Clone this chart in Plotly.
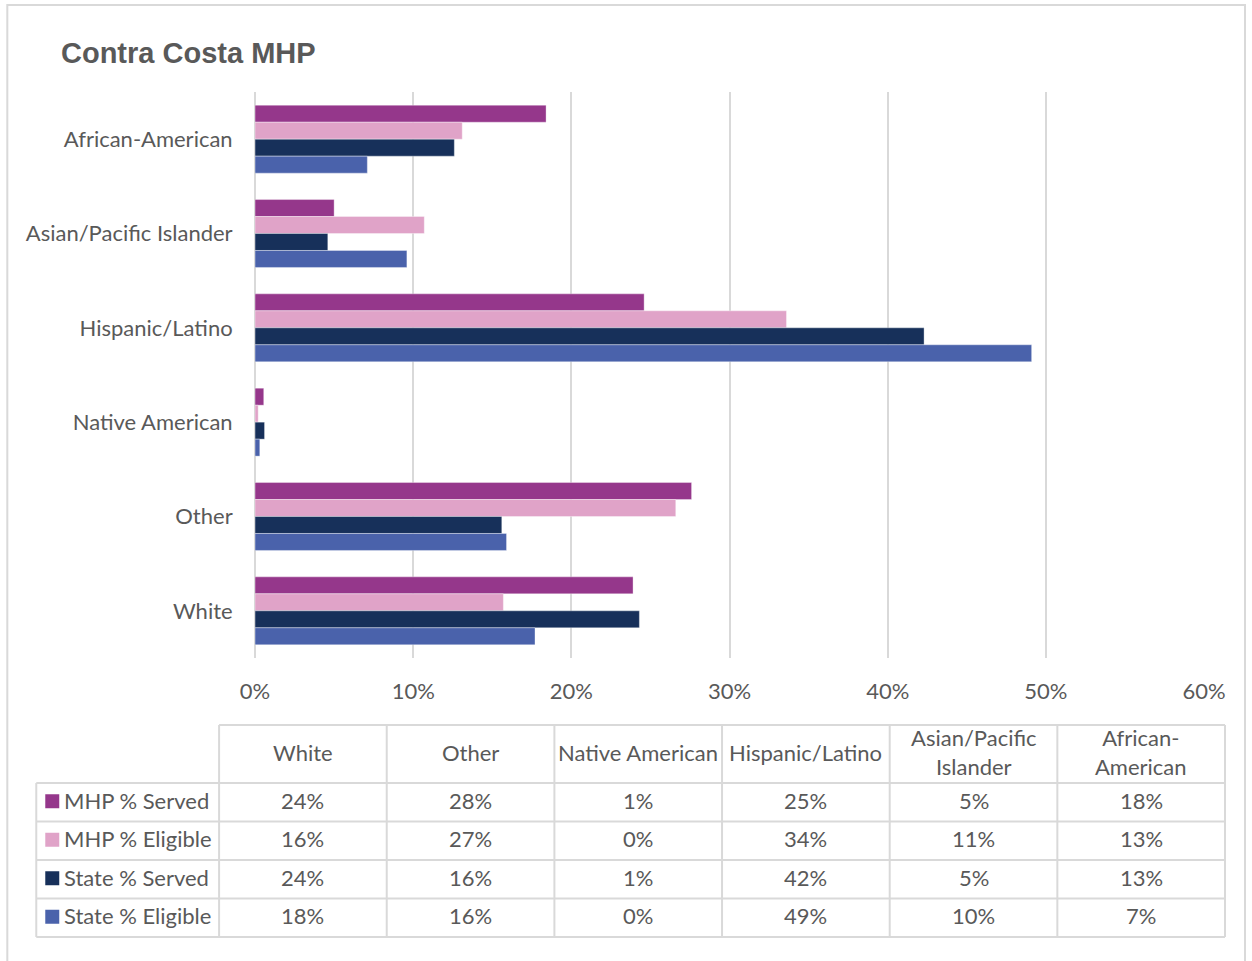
import plotly.graph_objects as go

# ---------------- data ----------------
categories = ["African-American", "Asian/Pacific Islander", "Hispanic/Latino",
              "Native American", "Other", "White"]
series_names = ["MHP % Served", "MHP % Eligible", "State % Served", "State % Eligible"]
mhp_served = [18.4, 5.0, 24.6, 0.55, 27.6, 23.9]
mhp_eligible = [13.1, 10.7, 33.6, 0.2, 26.6, 15.7]
state_served = [12.6, 4.6, 42.3, 0.6, 15.6, 24.3]
state_eligible = [7.1, 9.6, 49.1, 0.3, 15.9, 17.7]
series_values = [mhp_served, mhp_eligible, state_served, state_eligible]
colors = ["#95378B", "#E0A3C8", "#17305A", "#4A62AB"]
table_headers = ["White", "Other", "Native American", "Hispanic/Latino",
                 "Asian/Pacific<br>Islander", "African-<br>American"]
x_ticks = [0, 10, 20, 30, 40, 50, 60]
title = "Contra Costa MHP"

# ---------------- layout helpers ----------------
W, H = 1252, 961
X_OFF, X_SPAN = 14.7, 1216.3   # observed horizontal placement of the paper area
TXT = "#595959"
GRID = "#D9D9D9"
FONT = "Lato"
FS = 22


def px(x):
    return (x - X_OFF) / X_SPAN


def py(y):
    return 1 - y / H


fig = go.Figure()
for name, vals, col in zip(series_names, series_values, colors):
    fig.add_trace(go.Bar(
        y=categories, x=vals, name=name, orientation="h",
        marker=dict(color=col, line=dict(color="rgba(255,255,255,0.35)", width=1)),
        showlegend=False,
    ))

fig.update_layout(
    width=W, height=H, autosize=False, margin=dict(l=0, r=0, t=0, b=0),
    paper_bgcolor="white", plot_bgcolor="white",
    barmode="group", bargap=0.28, bargroupgap=0,
    font=dict(family=FONT, color=TXT, size=FS),
    xaxis=dict(domain=[px(255), px(1205)], range=[0, 60], tickvals=x_ticks,
               ticktext=[f"{t}%" for t in x_ticks],
               showgrid=True, gridcolor=GRID, gridwidth=2,
               zeroline=True, zerolinecolor=GRID, zerolinewidth=2,
               showline=False, ticks="outside", ticklen=0,
               ticklabelstandoff=14, tickfont=dict(size=FS, color=TXT)),
    yaxis=dict(domain=[py(658), py(92)], autorange="reversed",
               showgrid=False, zeroline=False, showline=False,
               ticks="outside", ticklen=0, ticklabelstandoff=17,
               tickfont=dict(size=FS, color=TXT)),
)

shapes = []
annotations = []

# outer frame
shapes.append(dict(type="rect", xref="paper", yref="paper",
                   x0=px(7), x1=px(1246), y0=py(975), y1=py(5),
                   line=dict(color=GRID, width=2), fillcolor="rgba(0,0,0,0)"))

# title
annotations.append(dict(text=f"<b>{title}</b>", xref="paper", yref="paper",
                        x=px(59), y=py(53), xanchor="left", yanchor="middle",
                        showarrow=False,
                        font=dict(family="Liberation Sans", size=29, color=TXT)))

# ---------------- data table ----------------
col_edges = [219 + i * (1226 - 219) / 6 for i in range(7)]
row_edges = [725, 783, 821.5, 860, 898.5, 937]
legend_left = 36
line_style = dict(color=GRID, width=2)

shapes.append(dict(type="line", xref="paper", yref="paper",
                   x0=px(col_edges[0]), x1=px(col_edges[-1]),
                   y0=py(row_edges[0]), y1=py(row_edges[0]), line=line_style))
for ry in row_edges[1:]:
    shapes.append(dict(type="line", xref="paper", yref="paper",
                       x0=px(legend_left), x1=px(col_edges[-1]),
                       y0=py(ry), y1=py(ry), line=line_style))
shapes.append(dict(type="line", xref="paper", yref="paper",
                   x0=px(legend_left), x1=px(legend_left),
                   y0=py(row_edges[1]), y1=py(row_edges[-1]), line=line_style))
for cx in col_edges:
    shapes.append(dict(type="line", xref="paper", yref="paper",
                       x0=px(cx), x1=px(cx),
                       y0=py(row_edges[0]), y1=py(row_edges[-1]), line=line_style))

for i, hdr in enumerate(table_headers):
    cx = (col_edges[i] + col_edges[i + 1]) / 2
    cy = (row_edges[0] + row_edges[1]) / 2
    annotations.append(dict(text=hdr, xref="paper", yref="paper",
                            x=px(cx), y=py(cy - 2), xanchor="center", yanchor="middle",
                            showarrow=False, font=dict(size=FS, color=TXT)))

table_order = list(reversed(range(len(categories))))
for r, (name, vals, col) in enumerate(zip(series_names, series_values, colors)):
    cy = (row_edges[r + 1] + row_edges[r + 2]) / 2 - 2
    shapes.append(dict(type="rect", xref="paper", yref="paper",
                       x0=px(45), x1=px(59), y0=py(cy + 8), y1=py(cy - 6),
                       fillcolor=col, line=dict(width=0)))
    annotations.append(dict(text=name, xref="paper", yref="paper",
                            x=px(62), y=py(cy), xanchor="left", yanchor="middle",
                            showarrow=False, font=dict(size=FS, color=TXT)))
    for c, idx in enumerate(table_order):
        cx = (col_edges[c] + col_edges[c + 1]) / 2
        annotations.append(dict(text=f"{vals[idx]:.0f}%", xref="paper", yref="paper",
                                x=px(cx), y=py(cy), xanchor="center", yanchor="middle",
                                showarrow=False, font=dict(size=FS, color=TXT)))

fig.update_layout(shapes=shapes, annotations=annotations)
fig.write_html("out.html", config={"responsive": False},
               post_script="document.body.style.margin='0px';"
                           "document.body.style.overflow='hidden';")
